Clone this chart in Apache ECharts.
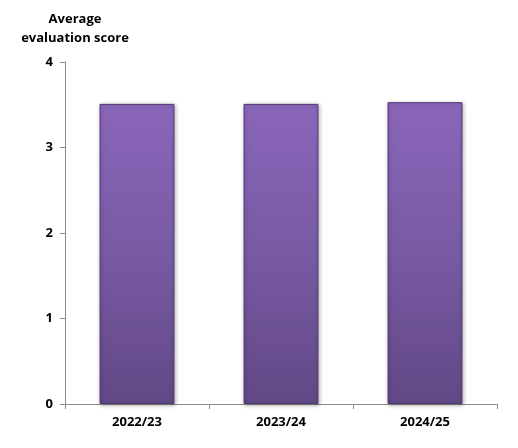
<!DOCTYPE html>
<html>
<head>
<meta charset="utf-8">
<script src="https://cdn.jsdelivr.net/npm/echarts@6/dist/echarts.min.js"></script>
<style>
  html, body { margin: 0; padding: 0; background: #fff; }
  #main { width: 518px; height: 448px; }
</style>
</head>
<body>
<div id="main"></div>
<script type="text/javascript">
// data
var years = ['2022/23', '2023/24', '2024/25'];
var scores = [3.51, 3.51, 3.53];
var yTicks = [0, 1, 2, 3, 4];

var myChart = echarts.init(document.getElementById('main'));
var font = 'Open Sans';

var option = {
  animation: false,
  backgroundColor: '#fff',
  title: {
    text: 'Average\nevaluation score',
    left: 70,
    top: 5,
    textAlign: 'center',
    textStyle: { fontFamily: font, fontWeight: 'bold', fontSize: 13, color: '#000', lineHeight: 19, align: 'center' }
  },
  grid: { left: 65, right: 21, top: 62, bottom: 44 },
  xAxis: {
    type: 'category',
    data: years,
    axisLine: { lineStyle: { color: '#8c8c8c' } },
    axisTick: { show: true, length: 5, lineStyle: { color: '#8c8c8c' } },
    axisLabel: { fontFamily: font, fontWeight: 'bold', fontSize: 13, color: '#000', margin: 12 }
  },
  yAxis: {
    type: 'value',
    min: yTicks[0],
    max: yTicks[yTicks.length - 1],
    interval: 1,
    splitLine: { show: false },
    axisLine: { show: true, lineStyle: { color: '#8c8c8c' } },
    axisTick: { show: true, length: 5, lineStyle: { color: '#8c8c8c' } },
    axisLabel: { fontFamily: font, fontWeight: 'bold', fontSize: 13, color: '#000', margin: 12 }
  },
  series: [{
    type: 'bar',
    data: scores,
    barWidth: '52%',
    itemStyle: {
      color: new echarts.graphic.LinearGradient(0, 0, 0, 1, [
        { offset: 0, color: '#8b66bc' },
        { offset: 0.5, color: '#785aa3' },
        { offset: 1, color: '#624886' }
      ]),
      borderColor: '#4f3872',
      borderWidth: 1,
      shadowColor: 'rgba(0,0,0,0.3)',
      shadowBlur: 4,
      shadowOffsetX: 1,
      shadowOffsetY: 1
    }
  }]
};

myChart.setOption(option);
</script>
</body>
</html>
